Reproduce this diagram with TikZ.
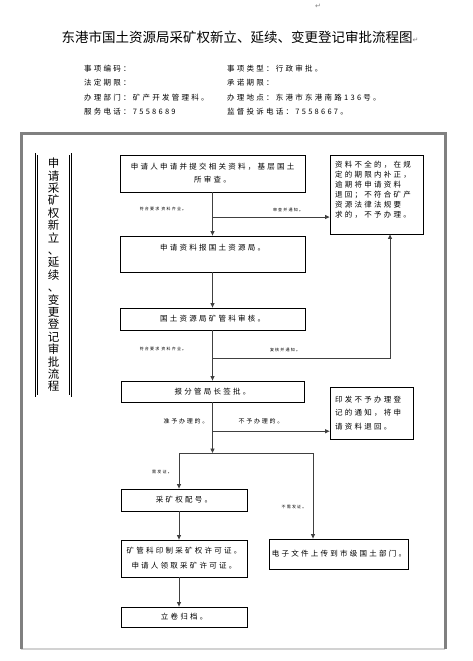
\documentclass[tikz,border=0pt]{standalone}
\usepackage{fontspec}
\newfontfamily\cjk{Noto Sans CJK SC}
\newfontfamily\cjksp[LetterSpace=30]{Noto Sans CJK SC}
\newfontfamily\symb{DejaVu Sans}
\usetikzlibrary{arrows.meta,calc,positioning}

\begin{document}
\begin{tikzpicture}[x=1pt,y=-1pt,>={Triangle[length=4.5pt,width=4pt]},
  flowbox/.style={draw,line width=0.8pt,align=center,inner sep=2pt,
    font=\cjksp\fontsize{7.5}{13}\selectfont},
  flow/.style={->,line width=0.9pt,black!75},
  tag/.style={inner sep=0pt,font=\cjksp\fontsize{4}{5}\selectfont},
  info/.style={anchor=north west,align=left,inner sep=0pt,
    font=\cjksp\fontsize{7.5}{14.4}\selectfont}]
  \useasboundingbox (0,0) rectangle (473,661);
  % heading
  \node[text=gray,font=\symb\fontsize{7}{8}\selectfont] (mark) at (318,6) {↵};
  \node[font=\cjk\fontsize{13.5}{15}\selectfont] (title) at (240,37)
     {东港市国土资源局采矿权新立、延续、变更登记审批流程图{\symb\fontsize{7}{8}\selectfont\color{gray}↵}};
  \node[info] (infoL) at (84,65) {事项编码：\\法定期限：\\办理部门：矿产开发管理科。\\服务电话：7558689};
  \node[info] (infoR) at (227,65) {事项类型：行政审批。\\承诺期限：\\办理地点：东港市东港南路136号。\\监督投诉电话：7558667。};
  % outer frame
  \draw[gray!35,line width=1.5pt] (21,649) -- (445,649);
  \draw[gray,line width=3pt] (21,649) -- (21,133) -- (445,133) -- (445,649);
  \node[draw,double,double distance=1.2pt,line width=0.6pt,minimum width=34,minimum height=242,
        inner sep=0pt,align=center,font=\cjk\fontsize{11.5}{12.4}\selectfont] (side) at (53.5,275)
     {申\\请\\采\\矿\\权\\新\\立\\、\\延\\续\\、\\变\\更\\登\\记\\审\\批\\流\\程};
  % main column
  \node[flowbox,minimum width=185,minimum height=37] (apply) at (212.5,173.5)
     {申请人申请并提交相关资料，基层国土\\所审查。};
  \node[flowbox,minimum width=185,minimum height=36] (report) at (212.5,254)
     {申请资料报国土资源局。\\~};
  \node[flowbox,minimum width=185,minimum height=22] (review) at (212.5,319) {国土资源局矿管科审核。};
  \node[flowbox,minimum width=183,minimum height=21] (sign) at (212.5,391.5) {报分管局长签批。};
  \node[flowbox,align=left,text width=83,inner xsep=5pt,minimum height=79,
        font=\cjksp\fontsize{7.5}{10}\selectfont] (lack) at (376.5,194.5)
     {资料不全的，在规\\定的期限内补正，\\逾期将申请资料\\退回；不符合矿产\\资源法律法规要\\求的，不予办理。\\~};
  \node[flowbox,align=left,text width=73,inner xsep=5pt,minimum height=52,
        font=\cjksp\fontsize{7.5}{13.5}\selectfont] (refuse) at (371.5,413)
     {印发不予办理登\\记的通知，将申\\请资料退回。};
  \node[flowbox,minimum width=126,minimum height=22] (number) at (184,500) {采矿权配号。};
  \node[flowbox,minimum width=126,minimum height=37,font=\cjksp\fontsize{7.5}{15}\selectfont] (print) at (184,558.5)
     {矿管科印制采矿权许可证。\\申请人领取采矿许可证。};
  \node[flowbox,minimum width=126,minimum height=20] (archive) at (184,617) {立卷归档。};
  \node[flowbox,minimum width=134,minimum height=30] (upload) at (339,554) {电子文件上传到市级国土部门。};
  % connectors
  \draw[flow] (apply) -- (report);
  \coordinate (br1) at ($(apply.south)!0.57!(report.north)$);
  \draw[flow] (br1) -- (br1 -| lack.west);
  \draw[flow] (report) -- (review);
  \draw[flow] (review) -- (sign);
  \coordinate (br2) at ($(review.south)!0.55!(sign.north)$);
  \draw[flow] (br2) -| ([xshift=13.5]lack.south);
  \coordinate (forkL) at (179,453);
  \coordinate (forkR) at (313,453);
  \draw[flow] (sign) -- (sign.south |- forkL);
  \coordinate (br3) at ($(sign.south)!0.57!(sign.south |- forkL)$);
  \draw[flow] (br3) -- (br3 -| refuse.west);
  \draw[line width=0.9pt,black!75] (forkL) -- (forkR);
  \draw[flow] (forkL) -- (forkL |- number.north);
  \draw[flow] (forkR) -- (forkR |- upload.north);
  \draw[flow] (forkL |- number.south) -- (forkL |- print.north);
  \draw[flow] (forkL |- print.south) -- (forkL |- archive.north);
  % labels on the connectors
  \node[tag] (ok1) at (163,209) {符合要求\ 资料齐全。};
  \node[tag] (back1) at (288,210) {审查并通知。};
  \node[tag] (ok2) at (163,349) {符合要求\ 资料齐全。};
  \node[tag] (back2) at (285,350) {复核并通知。};
  \node[tag,font=\cjksp\fontsize{6}{7}\selectfont] (yes) at (186,421) {准予办理的。};
  \node[tag,font=\cjksp\fontsize{6}{7}\selectfont] (no) at (261,421) {不予办理的。};
  \node[tag] (cert) at (162,472) {需发证。};
  \node[tag] (nocert) at (294,507) {不需发证。};
\end{tikzpicture}
\end{document}
